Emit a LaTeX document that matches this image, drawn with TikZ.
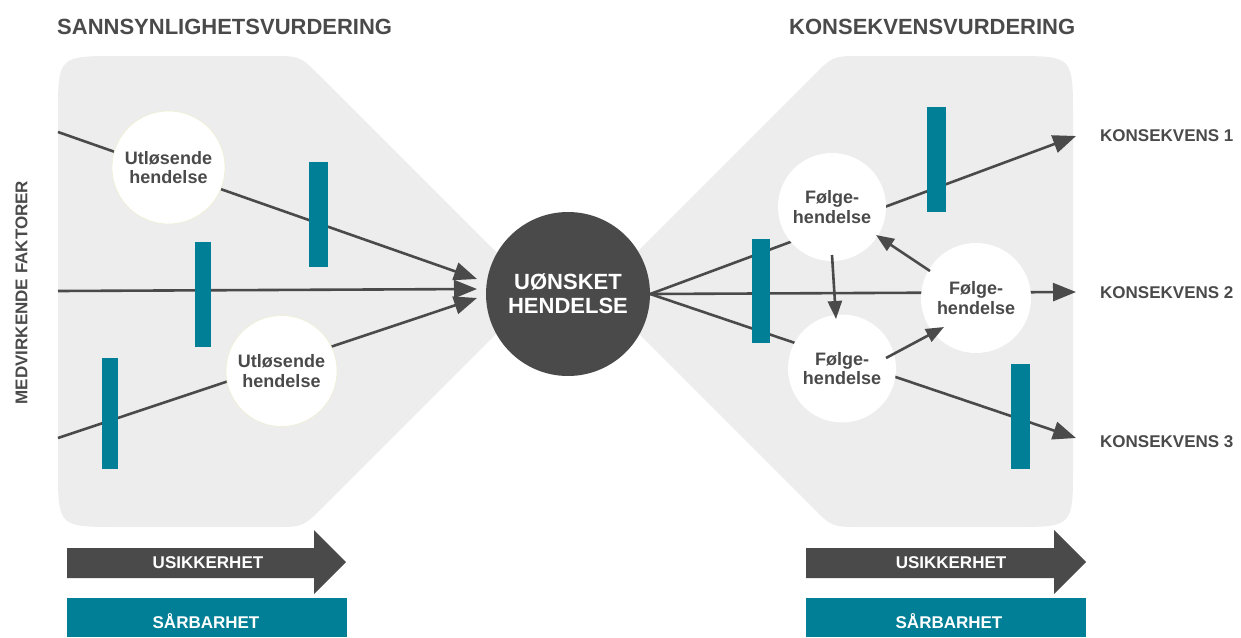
\documentclass[tikz,border=0pt]{standalone}
\usepackage{fontspec}
\setmainfont{Liberation Sans}
\usetikzlibrary{arrows.meta}
\definecolor{dg}{HTML}{4A4A4A}
\definecolor{bgg}{HTML}{EDEDED}
\definecolor{tl}{HTML}{007F96}
\definecolor{ring}{HTML}{F0EED4}
\begin{document}
\begin{tikzpicture}[x=1pt,y=-1pt,
  ln/.style={draw=dg, line width=2.6pt},
  arr/.style={ln, -{Triangle[length=23pt,width=18pt]}},
  arrs/.style={ln, -{Triangle[length=18pt,width=14pt]}},
  wcirc/.style={circle, fill=white, text=dg, align=center, inner sep=0pt,
    font=\fontsize{18}{19.5}\selectfont\bfseries},
  bar/.style={fill=tl},
  lbl/.style={text=dg, font=\fontsize{17}{18}\selectfont\bfseries, inner sep=0pt},
  ttl/.style={text=dg, font=\fontsize{22}{24}\selectfont\bfseries, inner sep=0pt},
  wtxt/.style={text=white, font=\fontsize{17}{19}\selectfont\bfseries, inner sep=0pt}]
\useasboundingbox (0,0) rectangle (1241,637);

% grey bow-tie halves
\fill[bgg] (58,291) -- (58,116) .. controls (58,56) .. (118,56) -- (272,56)
  .. controls (300,56) .. (320,76) -- (537,293) -- (323,507)
  .. controls (303,527) .. (275,527) -- (118,527) .. controls (58,527) .. (58,467) -- cycle;
\fill[bgg] (597,292) -- (813,76) .. controls (833,56) .. (861,56) -- (1013,56)
  .. controls (1073,56) .. (1073,116) -- (1073,467) .. controls (1073,527) .. (1013,527)
  -- (860,527) .. controls (832,527) .. (812,507) -- cycle;

% titles
\node[ttl, anchor=base west] (t1) at (57,34) {SANNSYNLIGHETSVURDERING};
\node[ttl, anchor=base west] (t2) at (789,34) {KONSEKVENSVURDERING};
\node[lbl, rotate=90] (mf) at (21.5,292.5) {MEDVIRKENDE FAKTORER};

% central event
\node[circle, fill=dg, minimum size=164pt, inner sep=0pt, text=white, align=center,
  font=\fontsize{22}{24}\selectfont\bfseries] (ev) at (568,294) {UØNSKET\\HENDELSE};

% coordinates
\coordinate (s1) at (58,132);  \coordinate (e1) at (477,279);
\coordinate (s2) at (58,291);  \coordinate (e2) at (477,289);
\coordinate (s3) at (58,438);  \coordinate (e3) at (477,298);
\coordinate (k1) at (1076,136);
\coordinate (k2) at (1076,292);
\coordinate (k3) at (1076,438);

% left arrows
\draw[arr] (s1) -- (e1);
\draw[arr] (s2) -- (e2);
\draw[arr] (s3) -- (e3);

% right arrows
\draw[arr] (ev.east) -- (k1);
\draw[arr] (ev.east) -- (k2);
\draw[arr] (ev.east) -- (k3);

% event circles
\node[wcirc, minimum size=113pt, draw=ring, line width=0.6pt] (u1) at (168.5,167.5) {Utløsende\\hendelse};
\node[wcirc, minimum size=111pt, draw=ring, line width=0.6pt] (u2) at (281.5,371) {Utløsende\\hendelse};
\node[wcirc, minimum size=108pt] (f1) at (832,207) {Følge-\\hendelse};
\node[wcirc, minimum size=108pt] (f2) at (842,368.5) {Følge-\\hendelse};
\node[wcirc, minimum size=110pt] (f3) at (976,298) {Følge-\\hendelse};

% arrows between following events
\coordinate (a1s) at (832,255); \coordinate (a1t) at (836,319);
\coordinate (a2s) at (930,271); \coordinate (a2t) at (876,235);
\coordinate (a3s) at (886,358); \coordinate (a3t) at (944,327);
\draw[arrs] (a1s) -- (a1t);
\draw[arrs] (a2s) -- (a2t);
\draw[arrs] (a3s) -- (a3t);

% barriers
\fill[bar] (309,162) rectangle (328,267);
\fill[bar] (195,242) rectangle (211,347);
\fill[bar] (102,358) rectangle (118,469);
\fill[bar] (927,107) rectangle (946,212);
\fill[bar] (752,239) rectangle (770,343);
\fill[bar] (1011,364) rectangle (1030,469);

% consequence labels
\node[lbl, anchor=base west] (c1) at (1100,141) {KONSEKVENS 1};
\node[lbl, anchor=base west] (c2) at (1100,298) {KONSEKVENS 2};
\node[lbl, anchor=base west] (c3) at (1100,447) {KONSEKVENS 3};

% bottom legend arrows
\fill[dg] (67,548) -- (314,548) -- (314,530) -- (346,562) -- (314,594) -- (314,578) -- (67,578) -- cycle;
\node[wtxt, anchor=base] (us1) at (208,568) {USIKKERHET};
\fill[tl] (67,598) rectangle (347,637);
\node[wtxt, anchor=base] (sb1) at (206,628) {SÅRBARHET};

\fill[dg] (806,548) -- (1054,548) -- (1054,530) -- (1086,562) -- (1054,594) -- (1054,578) -- (806,578) -- cycle;
\node[wtxt, anchor=base] (us2) at (951,568) {USIKKERHET};
\fill[tl] (806,598) rectangle (1086,637);
\node[wtxt, anchor=base] (sb2) at (949,628) {SÅRBARHET};
\end{tikzpicture}
\end{document}
